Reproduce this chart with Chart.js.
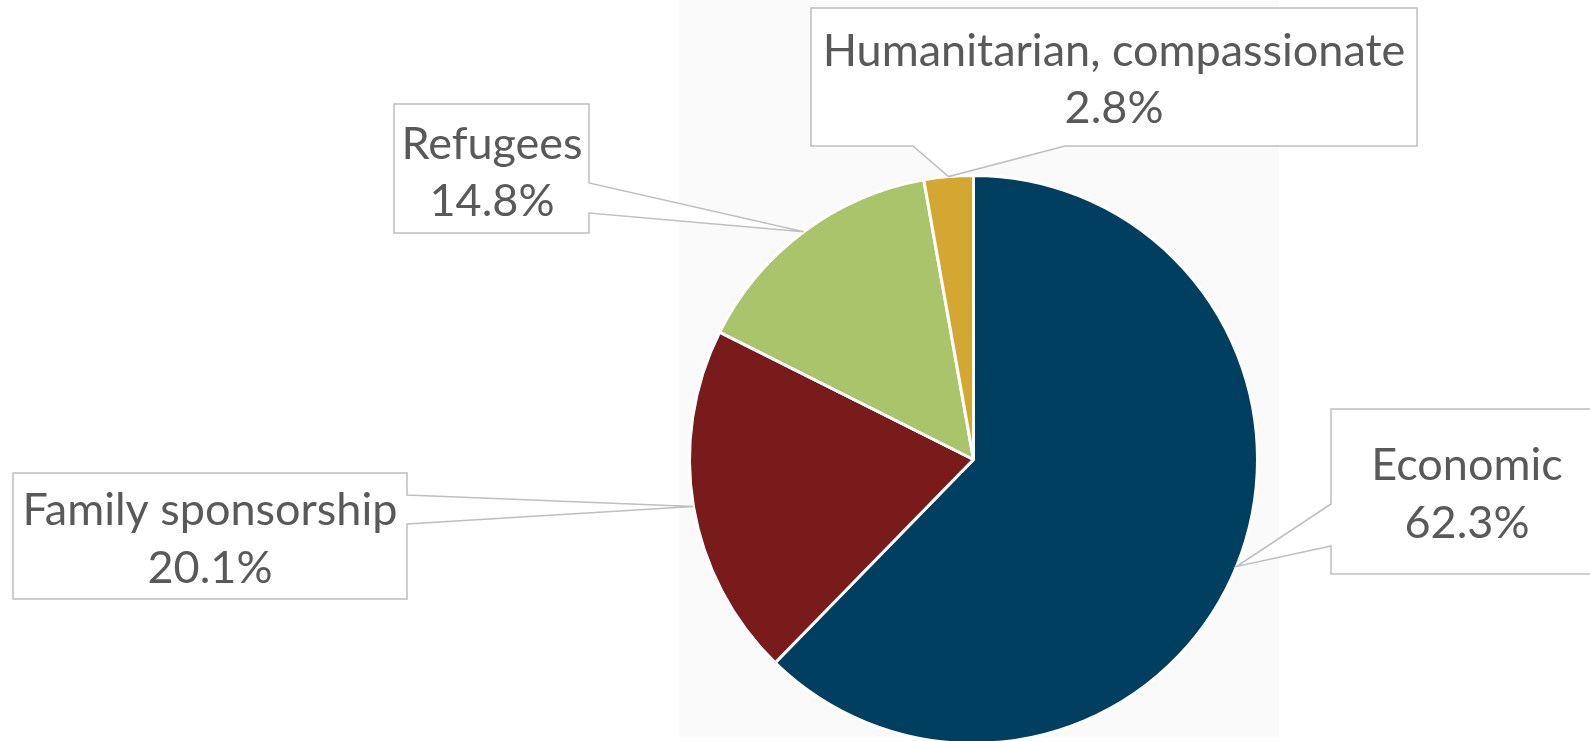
<!DOCTYPE html>
<html>
<head>
<meta charset="utf-8">
<script src="https://cdn.jsdelivr.net/npm/chart.js@4.4.1/dist/chart.umd.min.js"></script>
<style>
  html, body { margin: 0; padding: 0; background: #ffffff; overflow: hidden; }
  #wrap { width: 1590px; height: 760px; position: relative; }
</style>
</head>
<body>
<div id="wrap"><canvas id="c" width="1590" height="760"></canvas></div>
<script>
// ---- data ----
const categories = ['Economic', 'Family sponsorship', 'Refugees', 'Humanitarian, compassionate'];
const shares = [62.3, 20.1, 14.8, 2.8];
const valueLabels = ['62.3%', '20.1%', '14.8%', '2.8%'];
const sliceColors = ['#003F60', '#791A1B', '#AAC46C', '#D3A732'];

// ---- callout layout (styles / positions of the label boxes) ----
const calloutBoxes = [
  { l: 1331, t: 409, r: 1610, b: 574, side: 'left',   b1: 504, b2: 546, cx: 1467, y1: 465, y2: 523 },
  { l: 13,   t: 473, r: 407,  b: 599, side: 'right',  b1: 495, b2: 524, cx: 210,  y1: 510, y2: 568 },
  { l: 394,  t: 104, r: 589,  b: 233, side: 'right',  b1: 183, b2: 213, cx: 492,  y1: 144, y2: 201 },
  { l: 811,  t: 8,   r: 1417, b: 146, side: 'bottom', b1: 913, b2: 1065, cx: 1114, y1: 51, y2: 108 }
];

const plotBg = {
  id: 'plotBg',
  beforeDraw(chart) {
    const ctx = chart.ctx;
    ctx.save();
    ctx.fillStyle = '#ffffff';
    ctx.fillRect(0, 0, chart.width, chart.height);
    ctx.fillStyle = '#FAFAFA';
    ctx.fillRect(679, 0, 600, 737);
    ctx.restore();
  }
};

const callouts = {
  id: 'callouts',
  afterDatasetsDraw(chart) {
    const ctx = chart.ctx;
    const meta = chart.getDatasetMeta(0);
    ctx.save();
    meta.data.forEach((arc, i) => {
      const p = arc.getProps(['x', 'y', 'startAngle', 'endAngle', 'outerRadius'], true);
      const mid = (p.startAngle + p.endAngle) / 2;
      const tx = p.x + Math.cos(mid) * p.outerRadius;
      const ty = p.y + Math.sin(mid) * p.outerRadius;
      const bx = calloutBoxes[i];
      ctx.beginPath();
      if (bx.side === 'bottom') {
        ctx.moveTo(bx.l, bx.t); ctx.lineTo(bx.r, bx.t); ctx.lineTo(bx.r, bx.b);
        ctx.lineTo(bx.b2, bx.b); ctx.lineTo(tx, ty); ctx.lineTo(bx.b1, bx.b);
        ctx.lineTo(bx.l, bx.b);
      } else if (bx.side === 'right') {
        ctx.moveTo(bx.l, bx.t); ctx.lineTo(bx.r, bx.t); ctx.lineTo(bx.r, bx.b1);
        ctx.lineTo(tx, ty); ctx.lineTo(bx.r, bx.b2); ctx.lineTo(bx.r, bx.b);
        ctx.lineTo(bx.l, bx.b);
      } else {
        ctx.moveTo(bx.l, bx.t); ctx.lineTo(bx.r, bx.t); ctx.lineTo(bx.r, bx.b);
        ctx.lineTo(bx.l, bx.b); ctx.lineTo(bx.l, bx.b2); ctx.lineTo(tx, ty);
        ctx.lineTo(bx.l, bx.b1);
      }
      ctx.closePath();
      ctx.fillStyle = '#ffffff';
      ctx.fill();
      ctx.lineWidth = 1.5;
      ctx.strokeStyle = '#BFBFBF';
      ctx.lineJoin = 'miter';
      ctx.stroke();

      ctx.fillStyle = '#595959';
      ctx.font = '45px Lato';
      ctx.textAlign = 'center';
      ctx.textBaseline = 'middle';
      ctx.fillText(chart.data.labels[i], bx.cx, bx.y1);
      ctx.fillText(valueLabels[i], bx.cx, bx.y2);
    });
    ctx.restore();
  }
};

new Chart(document.getElementById('c'), {
  type: 'pie',
  data: {
    labels: categories,
    datasets: [{
      data: shares,
      backgroundColor: sliceColors,
      borderColor: '#ffffff',
      borderWidth: 3
    }]
  },
  options: {
    responsive: false,
    devicePixelRatio: 1,
    animation: false,
    layout: { padding: { left: 688, right: 331, top: 174, bottom: 15 } },
    plugins: { legend: { display: false }, tooltip: { enabled: false } }
  },
  plugins: [plotBg, callouts]
});
</script>
</body>
</html>
